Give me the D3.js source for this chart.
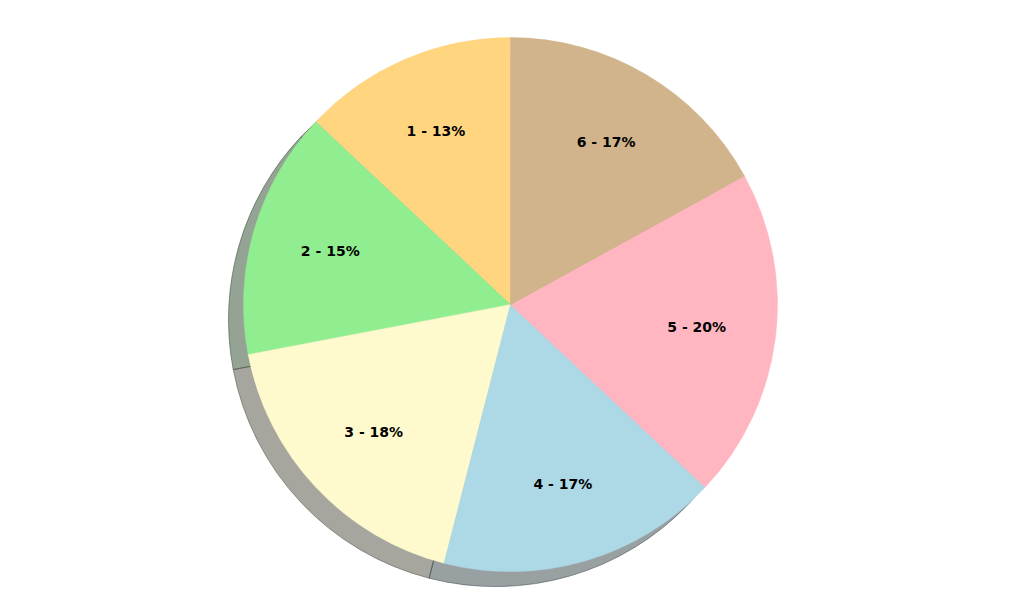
<!DOCTYPE html>
<html>
<head>
<meta charset="utf-8">
<script src="https://cdn.jsdelivr.net/npm/d3@7"></script>
<style>
  html, body { margin: 0; padding: 0; background: #ffffff; }
  svg { display: block; }
</style>
</head>
<body>
<svg id="chart" width="1024" height="614"></svg>
<script>
const categories = ["1", "2", "3", "4", "5", "6"];
const values = [13, 15, 18, 17, 20, 17];
const colors = ["#FFD580", "#90EE90", "#FFFACD", "#ADD8E6", "#FFB6C1", "#D2B48C"];

const W = 1024, H = 614;
const cx = 510.5, cy = 304.6, R = 267;
const shadowOffset = 15;

const svg = d3.select("#chart");
const data = categories.map((c, i) => ({ cat: c, value: values[i], color: colors[i] }));
const total = d3.sum(values);

const pie = d3.pie().value(d => d.value).sort(null).startAngle(0).endAngle(-2 * Math.PI);
const arcs = pie(data);
const arc = d3.arc().innerRadius(0).outerRadius(R);
const labelArc = d3.arc().innerRadius(R * 0.703).outerRadius(R * 0.703);

function shadowColor(c) {
  const rgb = d3.rgb(c);
  return d3.rgb(rgb.r * 0.3, rgb.g * 0.3, rgb.b * 0.3).formatHex();
}

const gShadow = svg.append("g").attr("transform", `translate(${cx - shadowOffset},${cy + shadowOffset})`);
gShadow.selectAll("path").data(arcs).join("path")
  .attr("d", arc)
  .attr("fill", d => shadowColor(d.data.color))
  .attr("fill-opacity", 0.5)
  .attr("stroke", d => shadowColor(d.data.color))
  .attr("stroke-opacity", 0.5)
  .attr("stroke-width", 1);

const g = svg.append("g").attr("transform", `translate(${cx},${cy})`);
g.selectAll("path").data(arcs).join("path")
  .attr("d", arc)
  .attr("fill", d => d.data.color)
  .attr("stroke", d => d.data.color)
  .attr("stroke-width", 0.5)
  .attr("stroke-linejoin", "round");

g.selectAll("text").data(arcs).join("text")
  .attr("transform", d => { const [x, y] = labelArc.centroid(d); return `translate(${x},${y - 1})`; })
  .attr("text-anchor", "middle")
  .attr("dominant-baseline", "central")
  .attr("font-family", "DejaVu Sans, sans-serif")
  .attr("font-weight", "bold")
  .attr("font-size", "14px")
  .attr("fill", "#000")
  .text(d => `${d.data.cat} - ${Math.round(d.data.value / total * 100)}%`);
</script>
</body>
</html>
